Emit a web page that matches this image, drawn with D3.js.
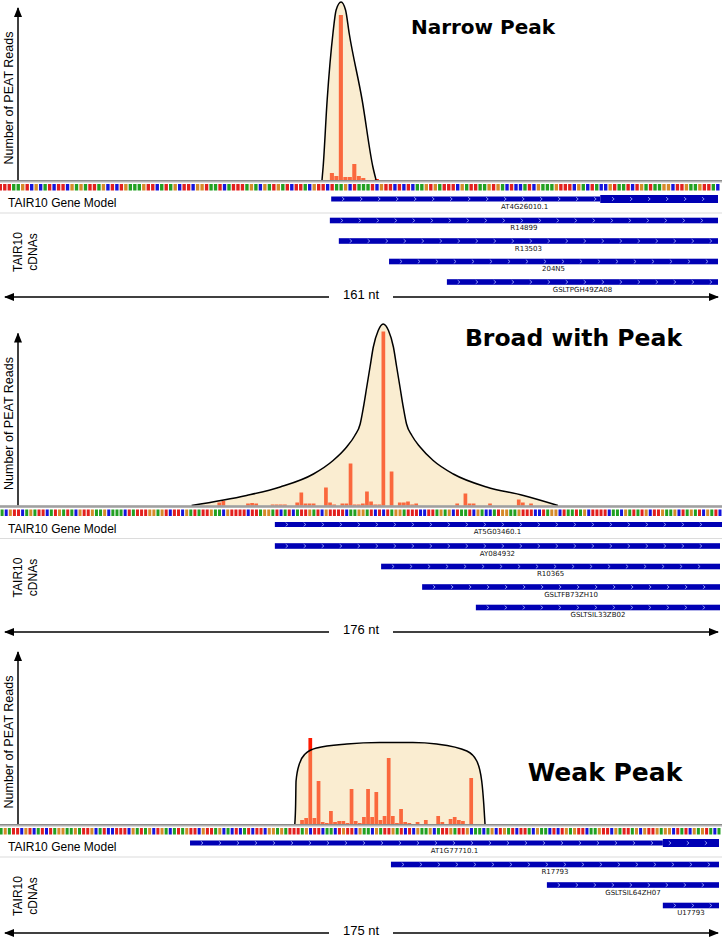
<!DOCTYPE html>
<html lang="en">
<head>
<meta charset="utf-8">
<title>PEAT peak classes</title>
<script src="https://d3js.org/d3.v7.min.js"></script>
<style>
  body { margin: 0; background: #fff; }
  svg { display: block; }
  .title { font-family: "DejaVu Sans", sans-serif; font-weight: bold; }
  .lab { font-family: "Liberation Sans", Arial, sans-serif; fill: #000; }
  .feat { font-family: "DejaVu Sans", sans-serif; font-size: 7px; fill: #111; }
</style>
</head>
<body>
<script>
// ---------------- data ----------------
var panelTitles = ["Narrow Peak", "Broad with Peak", "Weak Peak"];
var panelLengths = [161, 176, 175];   // nt shown in each window

// genomic sequence under each window (A, C, G, T)
var narrowSeq = "TTTAAGTCGCATCTTCGAGATTAGCTCTGAAAGTTCATAGCTTCGGTAATCATTTAGACGATGATCTTACGTTCTAAGCTAAATCGTTCTCTCAAGTGATTTCGATTAAGTGACTCCATCGAAAGTTTCGACTACCGTAATCTGATAAGGCTTGAAGTTAC";
var broadSeq = "ACGTTCAGATTCATGATACGTTGAAGCAAACTATTTGGAGTCTTCGATATTGAACGTTTTCTTAGGATCATCATTGATCGTTTTCAAGGATCTCTAGGATTTCCTTAGAGCTAATCGACCATGGAAGTTTCCTAGGCTAATAGCTTTTCAACGATATGCTTGAAGCTAGATCGATC";
var weakSeq = "AGATTCGTCATCTAGGAAGATTGCATCCTTTCGATAGCTGACATAGTTCGTTAGCACTCATCTTCGGAGATTTAGCTTCAACTGTTCGAACGATTGATCTCGAAGCATTGATTGCAACAGCTGATCTTACGAACTCTGAGTTCAAGTTCGATTAGCGTTGAGGCTATCGAGTACA";

// PEAT read counts: [nt position, reads]
var narrowReads = [[74,14],[75,8],[76,330],[77,6],[78,6],[79,32],[80,8],[81,4],[84,2]];
var broadReads = [[53,6],[54,9],[60,4],[61,5],[62,4],[66,2],[67,2],[68,2],[69,2],[72,6],[73,26],[74,4],
  [75,4],[76,4],[79,36],[80,6],[81,2],[83,4],[84,4],[85,84],[86,2],[87,2],[88,4],[89,28],[90,8],[91,2],
  [92,2],[93,348],[95,68],[97,6],[98,6],[99,8],[100,2],[101,4],[111,4],[113,24],[114,4],[115,4],[119,4],
  [126,12],[127,6],[129,4]];
var weakReads = [[73,8],[74,12],[75,172],[76,12],[77,86],[78,4],[79,2],[80,26],[81,4],[82,6],[83,6],[84,2],
  [85,70],[86,6],[87,2],[88,14],[89,70],[90,14],[91,64],[92,8],[93,16],[94,132],[95,16],[96,2],[97,30],
  [98,4],[99,2],[101,4],[103,8],[106,16],[107,4],[109,10],[110,14],[111,8],[112,6],[114,92]];

// peak envelopes: [nt position, reads]
var narrowEnvelope = [[72.25,0],[72.5,26],[73.4,160],[74.7,294],[75.4,340],[76.5,356],[77.5,340],[78.3,294],[81.2,160],[83.6,26],[84.3,0]];
var broadEnvelope = [[46.7,0],[60.1,20],[68.3,37],[76.4,63],[81.2,90],[84.5,117],[86.5,140],[87.8,163],[88.6,197],
  [89.4,237],[90.2,277],[91.0,317],[92.2,350],[93.4,363],[94.7,350],[95.9,317],[96.7,277],[97.5,237],[98.3,197],
  [99.1,163],[100.4,140],[102.4,117],[105.6,90],[110.5,63],[118.6,37],[127.6,20],[136.0,0]];
var weakEnvelope = [[71.7,0],[71.9,40],[72.0,86],[72.8,120],[74.2,140],[77.0,152],[84.3,160],[92.3,163],[100.3,163],
  [106.1,160],[113.4,146],[115.8,126],[117.0,86],[117.5,40],[117.8,0]];

// TAIR10 gene model: [name, start, end, coding start]
var geneModels = [["AT4G26010.1", 74.3, 161, 134.3], ["AT5G03460.1", 67, 176, 176], ["AT1G77710.1", 46.3, 175, 160.9]];

// TAIR10 cDNAs: [name, start, end]
var narrowCdnas = [["R14899", 74, 161], ["R13503", 76, 161], ["204N5", 87.2, 161], ["GSLTPGH49ZA08", 100.1, 161]];
var broadCdnas = [["AY084932", 67, 176], ["R10365", 92.9, 176], ["GSLTFB73ZH10", 102.9, 176], ["GSLTSIL33ZB02", 116, 176]];
var weakCdnas = [["R17793", 95, 175], ["GSLTSIL64ZH07", 132.8, 175], ["U17793", 160.9, 175]];

// ---------------- layout ----------------
var w = 722, h = 938;
var baselines = [180, 505.5, 824];
var spanLineY = [297, 632, 933];
var xShift = [-2, 0, -1];
var titlePos = [[483, 34], [573.5, 346], [605, 781]];
var titleSize = [20, 23.5, 25];

var seqs = [narrowSeq, broadSeq, weakSeq];
var reads = [narrowReads, broadReads, weakReads];
var envelopes = [narrowEnvelope, broadEnvelope, weakEnvelope];
var cdnas = [narrowCdnas, broadCdnas, weakCdnas];

var baseColor = { A: "#22a022", C: "#1515dc", G: "#d68a2a", T: "#e2201e" };

var svg = d3.select("body").append("svg")
  .attr("width", w)
  .attr("height", h);

var defs = svg.append("defs");
defs.append("marker")
  .attr("id", "head")
  .attr("viewBox", "0 0 10 8")
  .attr("refX", 9).attr("refY", 4)
  .attr("markerWidth", 10).attr("markerHeight", 8)
  .attr("markerUnits", "userSpaceOnUse")
  .attr("orient", "auto-start-reverse")
  .append("path")
  .attr("d", "M0,0 L10,4 L0,8 Z")
  .attr("fill", "#000");

function chevrons(g, x1, x2, cy) {
  for (var cx = x1 + 12; cx < x2 - 4; cx += 18) {
    g.append("path")
      .attr("d", "M" + (cx - 1.2) + "," + (cy - 1.8) + " L" + (cx + 1) + "," + cy + " L" + (cx - 1.2) + "," + (cy + 1.8))
      .attr("fill", "none")
      .attr("stroke", "#a8b4ff")
      .attr("stroke-width", 0.8);
  }
}

function drawPanel(p) {
  var base = baselines[p];
  var n = panelLengths[p];
  var g = svg.append("g").attr("class", "panel");

  var x = d3.scaleLinear().domain([0, n]).range([xShift[p], xShift[p] + w]);
  var step = x(1) - x(0);
  var y = d3.scaleLinear().domain([0, 350]).range([base, base - 175]);

  // bars
  g.append("g").selectAll("rect")
    .data(reads[p])
    .enter().append("rect")
    .attr("x", function(d) { return x(d[0]); })
    .attr("y", function(d) { return y(d[1]); })
    .attr("width", step - 0.4)
    .attr("height", function(d) { return base - y(d[1]); })
    .attr("fill", "#ff1a00");

  // envelope (semi-transparent, on top of the bars)
  var area = d3.area()
    .x(function(d) { return x(d[0]); })
    .y0(base)
    .y1(function(d) { return y(d[1]); })
    .curve(d3.curveMonotoneX);
  var line = d3.line()
    .x(function(d) { return x(d[0]); })
    .y(function(d) { return y(d[1]); })
    .curve(d3.curveMonotoneX);
  g.append("path")
    .datum(envelopes[p])
    .attr("d", area)
    .attr("fill", "#f4d592")
    .attr("fill-opacity", 0.42);
  g.append("path")
    .datum(envelopes[p])
    .attr("d", line)
    .attr("fill", "none")
    .attr("stroke", "#000")
    .attr("stroke-width", 1.5);

  // title
  g.append("text")
    .attr("class", "title")
    .attr("x", titlePos[p][0])
    .attr("y", titlePos[p][1])
    .attr("text-anchor", "middle")
    .style("font-size", titleSize[p] + "px")
    .text(panelTitles[p]);

  // y axis arrow + label
  g.append("line")
    .attr("x1", 18).attr("x2", 18)
    .attr("y1", base).attr("y2", base - 172)
    .attr("stroke", "#000").attr("stroke-width", 1.5)
    .attr("marker-end", "url(#head)");
  g.append("text")
    .attr("class", "lab")
    .attr("transform", "translate(13," + (base - 82) + ") rotate(-90)")
    .attr("text-anchor", "middle")
    .style("font-size", "12.5px")
    .text("Number of PEAT Reads");

  // baseline rule and sequence track
  g.append("rect")
    .attr("x", 0).attr("y", base)
    .attr("width", w).attr("height", 2.5)
    .attr("fill", "#b4b4b4");
  g.append("line")
    .attr("x1", 0).attr("x2", w)
    .attr("y1", base + 0.5).attr("y2", base + 0.5)
    .attr("stroke", "#8a8a8a").attr("stroke-width", 1);
  g.append("g").selectAll("rect")
    .data(seqs[p].split(""))
    .enter().append("rect")
    .attr("x", function(d, i) { return x(i) + 0.6; })
    .attr("y", base + 4)
    .attr("width", step - 1.1)
    .attr("height", 6.5)
    .attr("fill", function(d) { return baseColor[d]; });

  // gene model
  var gm = geneModels[p];
  var gy = base + 19;
  g.append("text")
    .attr("class", "lab")
    .attr("x", 8).attr("y", base + 27)
    .style("font-size", "12px")
    .text("TAIR10 Gene Model");
  g.append("rect")
    .attr("x", x(gm[1])).attr("y", gy - 2.5)
    .attr("width", x(gm[3]) - x(gm[1])).attr("height", 5)
    .attr("fill", "#0000b4");
  if (gm[3] < gm[2]) {
    g.append("rect")
      .attr("x", x(gm[3])).attr("y", gy - 4)
      .attr("width", x(gm[2]) - x(gm[3]) - 2).attr("height", 8)
      .attr("fill", "#0000b4");
  }
  chevrons(g, x(gm[1]), x(gm[2]) - 2, gy);
  g.append("text")
    .attr("class", "feat")
    .attr("x", (x(gm[1]) + x(gm[2]) - 2) / 2)
    .attr("y", gy + 9.5)
    .attr("text-anchor", "middle")
    .text(gm[0]);

  g.append("line")
    .attr("x1", 0).attr("x2", w)
    .attr("y1", base + 33).attr("y2", base + 33)
    .attr("stroke", "#dcdcdc").attr("stroke-width", 1.2);

  // cDNA track
  var lbl = g.append("text")
    .attr("class", "lab")
    .attr("transform", "translate(0," + (base + 72) + ") rotate(-90)")
    .attr("text-anchor", "middle")
    .style("font-size", "12px");
  lbl.append("tspan").attr("x", 0).attr("y", 22).text("TAIR10");
  lbl.append("tspan").attr("x", 0).attr("y", 37).text("cDNAs");

  cdnas[p].forEach(function(c, k) {
    var cy = base + 40.5 + k * 20.5;
    var x1 = x(c[1]), x2 = x(c[2]) - 2;
    g.append("rect")
      .attr("x", x1).attr("y", cy - 2.8)
      .attr("width", x2 - x1).attr("height", 5.6)
      .attr("fill", "#0000b4");
    chevrons(g, x1, x2, cy);
    g.append("text")
      .attr("class", "feat")
      .attr("x", (x1 + x2) / 2)
      .attr("y", cy + 9.5)
      .attr("text-anchor", "middle")
      .text(c[0]);
  });

  // window length arrow
  var sy = spanLineY[p];
  var mid = 361;
  g.append("line")
    .attr("x1", mid - 32).attr("x2", 5)
    .attr("y1", sy).attr("y2", sy)
    .attr("stroke", "#000").attr("stroke-width", 1.5)
    .attr("marker-end", "url(#head)");
  g.append("line")
    .attr("x1", mid + 32).attr("x2", 718)
    .attr("y1", sy).attr("y2", sy)
    .attr("stroke", "#000").attr("stroke-width", 1.5)
    .attr("marker-end", "url(#head)");
  g.append("text")
    .attr("class", "lab")
    .attr("x", mid).attr("y", sy + 2)
    .attr("text-anchor", "middle")
    .style("font-size", "13px")
    .text(n + " nt");
}

[0, 1, 2].forEach(drawPanel);
</script>
</body>
</html>
